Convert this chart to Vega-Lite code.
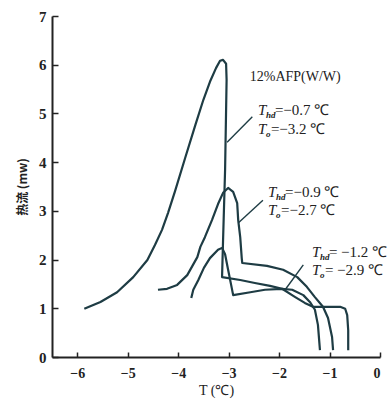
{
  "$schema": "https://vega.github.io/schema/vega-lite/v6.json",
  "width": 328,
  "height": 341,
  "autosize": "none",
  "padding": {"left": 52, "top": 16, "right": 9, "bottom": 42},
  "background": "white",
  "config": {"view": {"stroke": null}},
  "datasets": {
    "curves": [
      {"series": "A", "i": 1, "x": -5.86, "y": 0.99},
      {"series": "A", "i": 2, "x": -5.54, "y": 1.13},
      {"series": "A", "i": 3, "x": -5.21, "y": 1.33},
      {"series": "A", "i": 4, "x": -4.89, "y": 1.64},
      {"series": "A", "i": 5, "x": -4.61, "y": 1.99},
      {"series": "A", "i": 6, "x": -4.46, "y": 2.3},
      {"series": "A", "i": 7, "x": -4.32, "y": 2.61},
      {"series": "A", "i": 8, "x": -4.2, "y": 2.96},
      {"series": "A", "i": 9, "x": -4.06, "y": 3.41},
      {"series": "A", "i": 10, "x": -3.86, "y": 4.09},
      {"series": "A", "i": 11, "x": -3.66, "y": 4.76},
      {"series": "A", "i": 12, "x": -3.5, "y": 5.28},
      {"series": "A", "i": 13, "x": -3.37, "y": 5.65},
      {"series": "A", "i": 14, "x": -3.25, "y": 5.93},
      {"series": "A", "i": 15, "x": -3.17, "y": 6.08},
      {"series": "A", "i": 16, "x": -3.11, "y": 6.1},
      {"series": "A", "i": 17, "x": -3.05, "y": 6.02},
      {"series": "A", "i": 18, "x": -3.04, "y": 5.69},
      {"series": "A", "i": 19, "x": -3.07, "y": 3.84},
      {"series": "A", "i": 20, "x": -3.11, "y": 2.4},
      {"series": "A", "i": 21, "x": -3.13, "y": 1.64},
      {"series": "A", "i": 22, "x": -2.77, "y": 1.58},
      {"series": "A", "i": 23, "x": -2.48, "y": 1.52},
      {"series": "A", "i": 24, "x": -2.18, "y": 1.46},
      {"series": "A", "i": 25, "x": -1.94, "y": 1.4},
      {"series": "A", "i": 26, "x": -1.68, "y": 1.23},
      {"series": "A", "i": 27, "x": -1.49, "y": 1.11},
      {"series": "A", "i": 28, "x": -1.33, "y": 1.03},
      {"series": "A", "i": 29, "x": -1.05, "y": 1.03},
      {"series": "A", "i": 30, "x": -0.79, "y": 1.03},
      {"series": "A", "i": 31, "x": -0.69, "y": 0.99},
      {"series": "A", "i": 32, "x": -0.65, "y": 0.86},
      {"series": "A", "i": 33, "x": -0.63, "y": 0.55},
      {"series": "A", "i": 34, "x": -0.63, "y": 0.14},
      {"series": "B", "i": 1, "x": -4.4, "y": 1.38},
      {"series": "B", "i": 2, "x": -4.22, "y": 1.4},
      {"series": "B", "i": 3, "x": -4.02, "y": 1.48},
      {"series": "B", "i": 4, "x": -3.82, "y": 1.68},
      {"series": "B", "i": 5, "x": -3.62, "y": 2.05},
      {"series": "B", "i": 6, "x": -3.56, "y": 2.26},
      {"series": "B", "i": 7, "x": -3.47, "y": 2.46},
      {"series": "B", "i": 8, "x": -3.33, "y": 2.81},
      {"series": "B", "i": 9, "x": -3.21, "y": 3.14},
      {"series": "B", "i": 10, "x": -3.11, "y": 3.37},
      {"series": "B", "i": 11, "x": -3.01, "y": 3.47},
      {"series": "B", "i": 12, "x": -2.91, "y": 3.39},
      {"series": "B", "i": 13, "x": -2.83, "y": 3.16},
      {"series": "B", "i": 14, "x": -2.81, "y": 2.81},
      {"series": "B", "i": 15, "x": -2.77, "y": 2.46},
      {"series": "B", "i": 16, "x": -2.74, "y": 2.03},
      {"series": "B", "i": 17, "x": -2.73, "y": 1.93},
      {"series": "B", "i": 18, "x": -2.24, "y": 1.87},
      {"series": "B", "i": 19, "x": -1.92, "y": 1.79},
      {"series": "B", "i": 20, "x": -1.64, "y": 1.64},
      {"series": "B", "i": 21, "x": -1.45, "y": 1.44},
      {"series": "B", "i": 22, "x": -1.29, "y": 1.23},
      {"series": "B", "i": 23, "x": -1.13, "y": 1.03},
      {"series": "B", "i": 24, "x": -1.03, "y": 0.8},
      {"series": "B", "i": 25, "x": -0.95, "y": 0.41},
      {"series": "B", "i": 26, "x": -0.93, "y": 0.14},
      {"series": "C", "i": 1, "x": -3.74, "y": 1.21},
      {"series": "C", "i": 2, "x": -3.7, "y": 1.38},
      {"series": "C", "i": 3, "x": -3.6, "y": 1.58},
      {"series": "C", "i": 4, "x": -3.49, "y": 1.83},
      {"series": "C", "i": 5, "x": -3.37, "y": 2.03},
      {"series": "C", "i": 6, "x": -3.21, "y": 2.2},
      {"series": "C", "i": 7, "x": -3.13, "y": 2.24},
      {"series": "C", "i": 8, "x": -3.07, "y": 2.11},
      {"series": "C", "i": 9, "x": -3.01, "y": 1.79},
      {"series": "C", "i": 10, "x": -2.95, "y": 1.48},
      {"series": "C", "i": 11, "x": -2.91, "y": 1.27},
      {"series": "C", "i": 12, "x": -2.57, "y": 1.33},
      {"series": "C", "i": 13, "x": -2.28, "y": 1.38},
      {"series": "C", "i": 14, "x": -1.94, "y": 1.4},
      {"series": "C", "i": 15, "x": -1.74, "y": 1.38},
      {"series": "C", "i": 16, "x": -1.52, "y": 1.27},
      {"series": "C", "i": 17, "x": -1.39, "y": 1.13},
      {"series": "C", "i": 18, "x": -1.29, "y": 0.97},
      {"series": "C", "i": 19, "x": -1.23, "y": 0.66},
      {"series": "C", "i": 20, "x": -1.19, "y": 0.14}
    ],
    "leaders": [
      {"x": -2.53, "y": 4.93, "x2": -3.03, "y2": 4.41},
      {"x": -2.32, "y": 3.22, "x2": -2.81, "y2": 2.75},
      {"x": -1.52, "y": 1.89, "x2": -1.88, "y2": 1.38}
    ],
    "title": [
      {"x": -1.68, "y": 5.75, "label": "12%AFP(W/W)"}
    ],
    "annot": [
      {"x": -2.42, "y": 5.07, "sub": "hd", "val": "=−0.7 ℃"},
      {"x": -2.42, "y": 4.68, "sub": "o", "val": "=−3.2 ℃"},
      {"x": -2.22, "y": 3.39, "sub": "hd", "val": "=−0.9 ℃"},
      {"x": -2.22, "y": 3.02, "sub": "o", "val": "=−2.7 ℃"},
      {"x": -1.35, "y": 2.16, "sub": "hd", "val": "= −1.2 ℃"},
      {"x": -1.35, "y": 1.79, "sub": "o", "val": "= −2.9 ℃"}
    ]
  },
  "encoding": {
    "x": {
      "field": "x", "type": "quantitative",
      "scale": {"domain": [-6.5, 0], "nice": false, "zero": false},
      "axis": {
        "title": "T (℃)", "values": [-6, -5, -4, -3, -2, -1, 0],
        "grid": false, "domainColor": "#222", "domainWidth": 2,
        "tickColor": "#222", "tickWidth": 1.5, "tickSize": -5,
        "labelPadding": 14, "labelFont": "Liberation Serif", "labelFontSize": 14,
        "labelFontWeight": "bold", "labelColor": "#222",
        "titleFont": "Liberation Serif", "titleFontSize": 14, "titleFontWeight": "normal",
        "titleColor": "#222", "titlePadding": 3
      }
    },
    "y": {
      "field": "y", "type": "quantitative",
      "scale": {"domain": [0, 7], "nice": false},
      "axis": {
        "title": "热流 (mw)", "values": [0, 1, 2, 3, 4, 5, 6, 7],
        "grid": false, "domainColor": "#222", "domainWidth": 2,
        "tickColor": "#222", "tickWidth": 1.5, "tickSize": -6,
        "labelPadding": 12, "labelFont": "Liberation Serif", "labelFontSize": 15,
        "labelFontWeight": "bold", "labelColor": "#222",
        "titleFont": "Noto Sans CJK SC", "titleFontSize": 12, "titleFontWeight": "bold",
        "titleColor": "#222", "titleX": -30, "titleBaseline": "middle"
      }
    }
  },
  "layer": [
    {
      "data": {"name": "curves"},
      "mark": {"type": "line", "color": "#1e3c44", "strokeWidth": 2.2, "strokeJoin": "round", "interpolate": "linear"},
      "encoding": {"detail": {"field": "series"}, "order": {"field": "i", "type": "quantitative"}}
    },
    {
      "data": {"name": "leaders"},
      "mark": {"type": "rule", "color": "#1e3c44", "strokeWidth": 1.4},
      "encoding": {"x2": {"field": "x2"}, "y2": {"field": "y2"}}
    },
    {
      "data": {"name": "title"},
      "mark": {"type": "text", "font": "Liberation Serif", "fontSize": 14, "color": "#222", "align": "center", "baseline": "middle"},
      "encoding": {"text": {"field": "label"}}
    },
    {
      "data": {"name": "annot"},
      "mark": {"type": "text", "text": "T", "font": "Liberation Serif", "fontSize": 15, "fontStyle": "italic", "color": "#222", "align": "left", "baseline": "middle"},
      "encoding": {}
    },
    {
      "data": {"name": "annot"},
      "mark": {"type": "text", "font": "Liberation Serif", "fontSize": 9, "fontStyle": "italic", "fontWeight": "bold", "color": "#222", "align": "left", "baseline": "middle", "dx": 8, "dy": 5},
      "encoding": {"text": {"field": "sub"}}
    },
    {
      "data": {"name": "annot"},
      "transform": [{"filter": "datum.sub == 'hd'"}],
      "mark": {"type": "text", "font": "Liberation Serif", "fontSize": 15, "color": "#222", "align": "left", "baseline": "middle", "dx": 17},
      "encoding": {"text": {"field": "val"}}
    },
    {
      "data": {"name": "annot"},
      "transform": [{"filter": "datum.sub == 'o'"}],
      "mark": {"type": "text", "font": "Liberation Serif", "fontSize": 15, "color": "#222", "align": "left", "baseline": "middle", "dx": 13},
      "encoding": {"text": {"field": "val"}}
    }
  ]
}
